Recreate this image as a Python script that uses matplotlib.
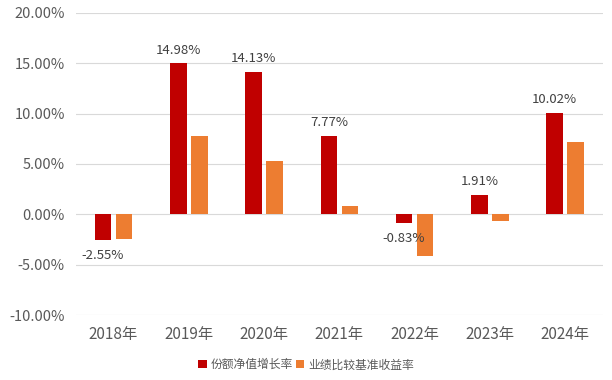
import matplotlib
matplotlib.use("Agg")
import matplotlib.pyplot as plt
import numpy as np
from matplotlib.ticker import FuncFormatter

plt.rcParams['font.family'] = ['Noto Sans CJK SC', 'DejaVu Sans']

# --- Data ---
years = ['2018年', '2019年', '2020年', '2021年', '2022年', '2023年', '2024年']
nav_growth = [-2.55, 14.98, 14.13, 7.77, -0.83, 1.91, 10.02]
benchmark = [-2.45, 7.78, 5.28, 0.83, -4.16, -0.67, 7.18]
series_names = ['份额净值增长率', '业绩比较基准收益率']

RED = '#C00000'
ORANGE = '#ED7D31'
TEXT = '#595959'

fig = plt.figure(figsize=(6.12, 3.8), dpi=100)
ax = fig.add_axes([0.124, 0.171, 0.861, 0.795])

x = np.arange(len(years))
w = 0.22
gap = 0.03
b1 = ax.bar(x - w / 2 - gap, nav_growth, w, color=RED, label=series_names[0], zorder=3)
b2 = ax.bar(x + w / 2 + gap, benchmark, w, color=ORANGE, label=series_names[1], zorder=3)

# data labels on the red series
for xi, v in zip(x - w / 2 - gap, nav_growth):
    if v >= 0:
        ax.annotate(f'{v:.2f}%', (xi, v), xytext=(0, 5), textcoords='offset points',
                    ha='center', va='bottom', fontsize=9.5, color='#404040', zorder=4)
    else:
        ax.annotate(f'{v:.2f}%', (xi, v), xytext=(0, -6.5), textcoords='offset points',
                    ha='center', va='top', fontsize=9.5, color='#404040', zorder=4)

ax.set_xlim(-0.5, len(years) - 0.5)
ax.set_ylim(-10, 20)
ax.set_yticks(np.arange(-10, 20.1, 5))
ax.yaxis.set_major_formatter(FuncFormatter(lambda v, p: f'{v:.2f}%'))
ax.set_xticks(x)
ax.set_xticklabels(years)
ax.tick_params(axis='both', length=0, labelsize=10.5, colors=TEXT)
ax.tick_params(axis='x', pad=8, labelsize=11)
ax.tick_params(axis='y', pad=8)
ax.grid(axis='y', color='#D9D9D9', linewidth=0.8, zorder=0)
for s in ax.spines.values():
    s.set_visible(False)

leg = fig.legend(handles=[b1, b2], loc='center', bbox_to_anchor=(0.5, 0.04), ncol=2,
                 frameon=False, fontsize=8.5, handlelength=0.7, handleheight=0.7,
                 handletextpad=0.3, columnspacing=0.3)
for t in leg.get_texts():
    t.set_color(TEXT)

plt.savefig('out.png', dpi=100)
